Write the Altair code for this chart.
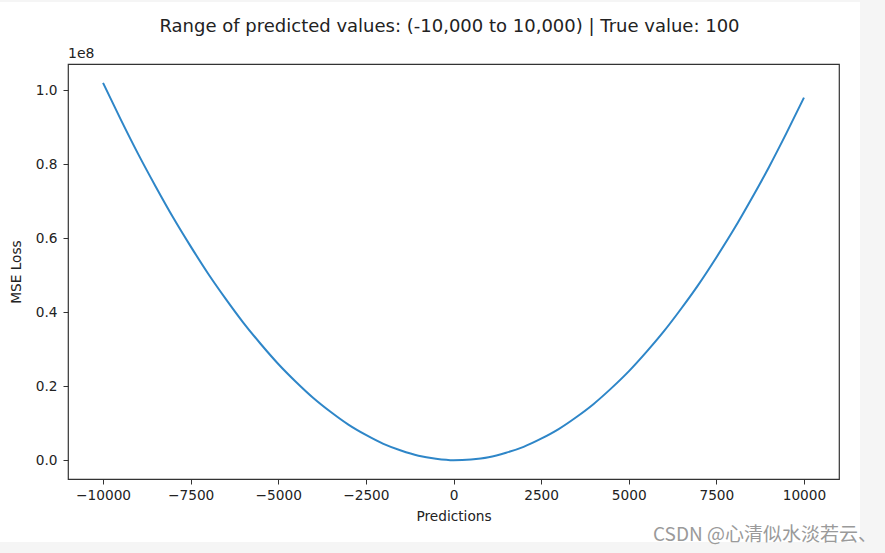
import altair as alt
import pandas as pd

# Predictions (x) and MSE loss (in units of 1e8)
predictions = [-10000, -9500, -9000, -8500, -8000, -7500, -7000, -6500, -6000, -5500,
               -5000, -4500, -4000, -3500, -3000, -2500, -2000, -1500, -1000, -500,
               0, 500, 1000, 1500, 2000, 2500, 3000, 3500, 4000, 4500,
               5000, 5500, 6000, 6500, 7000, 7500, 8000, 8500, 9000, 9500, 10000]
mse_loss_1e8 = [1.020, 0.922, 0.828, 0.740, 0.656, 0.578, 0.504, 0.436, 0.372, 0.314,
                0.260, 0.212, 0.168, 0.130, 0.096, 0.068, 0.044, 0.026, 0.012, 0.004,
                0.000, 0.002, 0.008, 0.020, 0.036, 0.058, 0.084, 0.116, 0.152, 0.194,
                0.240, 0.292, 0.348, 0.410, 0.476, 0.548, 0.624, 0.706, 0.792, 0.884, 0.980]

x_ticks = [-10000, -7500, -5000, -2500, 0, 2500, 5000, 7500, 10000]
y_ticks = [0.0, 0.2, 0.4, 0.6, 0.8, 1.0]

title_text = "Range of predicted values: (-10,000 to 10,000) | True value: 100"
watermark = "CSDN @心清似水淡若云、"

df = pd.DataFrame({"Predictions": predictions, "MSE": mse_loss_1e8})
one = pd.DataFrame({"k": [0]})

FONT = "DejaVu Sans"
BORDER = "#f5f5f5"

# light-grey screenshot border strips (right, bottom, top)
strip_right = alt.Chart(one).mark_rect(color=BORDER).encode(
    x=alt.value(792), x2=alt.value(820), y=alt.value(-64), y2=alt.value(492))
strip_bottom = alt.Chart(one).mark_rect(color=BORDER).encode(
    x=alt.value(-68), x2=alt.value(820), y=alt.value(478), y2=alt.value(492))
strip_top = alt.Chart(one).mark_rect(color=BORDER).encode(
    x=alt.value(-68), x2=alt.value(820), y=alt.value(-64), y2=alt.value(-62))

line = alt.Chart(df).mark_line(color="#2e86c8", strokeWidth=2, interpolate="monotone").encode(
    x=alt.X("Predictions:Q",
            scale=alt.Scale(domain=[-11000, 11000], nice=False, zero=False),
            axis=alt.Axis(values=x_ticks, format="d", title="Predictions",
                          titlePadding=8)),
    y=alt.Y("MSE:Q",
            scale=alt.Scale(domain=[-0.051, 1.071], nice=False, zero=False),
            axis=alt.Axis(values=y_ticks, format=".1f", title="MSE Loss",
                          titlePadding=12)),
)

title_mark = alt.Chart(one).mark_text(
    text=title_text, font=FONT, fontSize=18, color="#222",
    align="center", baseline="middle"
).encode(x=alt.value(381.5), y=alt.value(-37))

offset_text = alt.Chart(one).mark_text(
    text="1e8", font=FONT, fontSize=14, color="#222", align="left", baseline="bottom"
).encode(x=alt.value(0), y=alt.value(-3))

wm = alt.Chart(one).mark_text(
    text=watermark, font="Noto Sans CJK SC", fontSize=19, color="#9a9a9a",
    align="left", baseline="middle"
).encode(x=alt.value(585), y=alt.value(471))

chart = alt.layer(strip_right, strip_bottom, strip_top, line, title_mark, offset_text, wm).properties(
    width=771, height=415,
    autosize=alt.AutoSizeParams(type="none"),
    padding={"left": 68, "top": 64, "right": 46, "bottom": 74},
    background="white",
).configure_view(
    stroke="#333", strokeWidth=1.2
).configure_axis(
    domain=False, grid=False, ticks=True, tickSize=5, tickColor="#333",
    labelFont=FONT, labelFontSize=13.7, labelColor="#222", labelPadding=4,
    titleFont=FONT, titleFontSize=13.7, titleColor="#222", titleFontWeight="normal",
).configure_axisY(labelPadding=6)

chart.save("out.html", embed_options={"renderer": "svg", "actions": False})
